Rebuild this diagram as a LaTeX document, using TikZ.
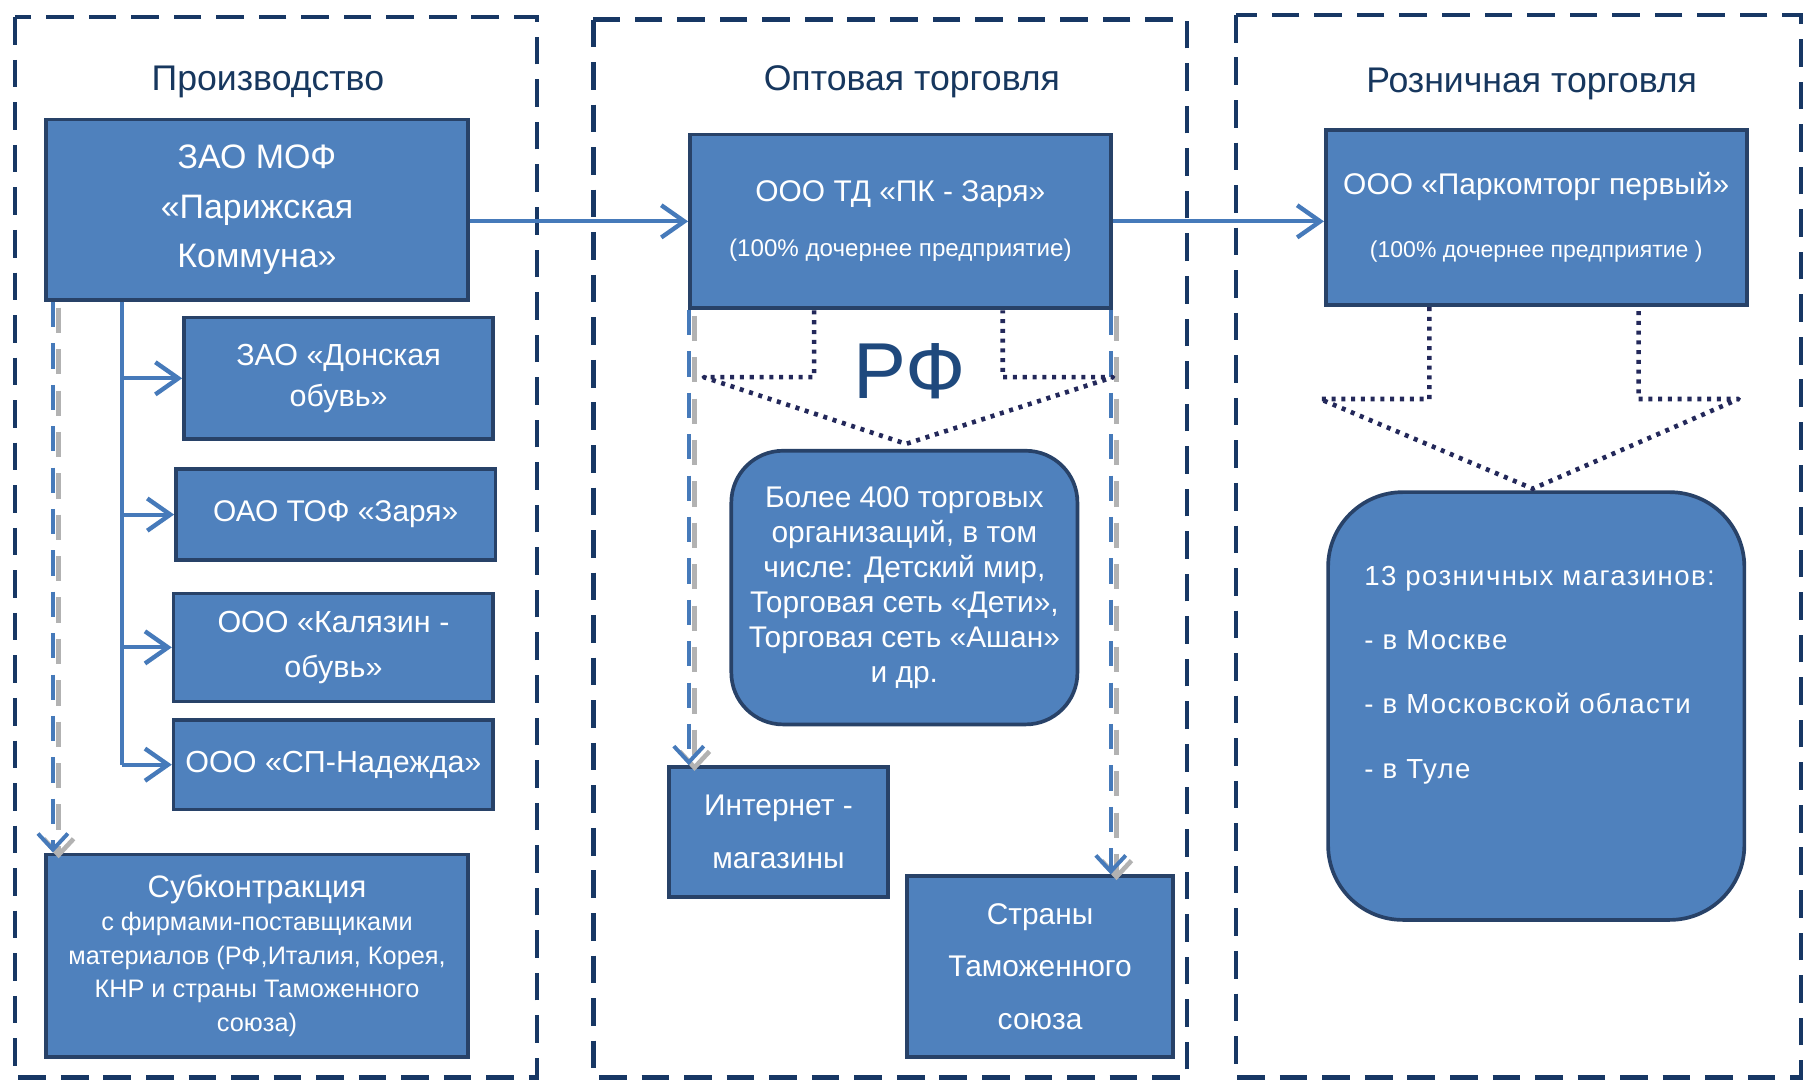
\documentclass[tikz,border=0pt]{standalone}
\usepackage{fontspec}
\setmainfont{Liberation Sans}
\usetikzlibrary{arrows.meta,calc}
\definecolor{boxfill}{RGB}{79,129,189}
\definecolor{boxline}{RGB}{40,66,104}
\definecolor{frameblue}{RGB}{23,55,100}
\definecolor{titleblue}{RGB}{23,55,94}
\definecolor{linkblue}{RGB}{70,122,186}
\definecolor{dotnavy}{RGB}{35,40,90}
\definecolor{rfblue}{RGB}{31,73,125}
\begin{document}
\begin{tikzpicture}[x=1pt,y=-1pt,
  frame/.style={draw=frameblue, line width=3.8pt, dash pattern=on 24pt off 13pt},
  title/.style={text=titleblue, font=\fontsize{31}{36}\selectfont},
  box/.style={draw=boxline, line width=3.2pt, fill=boxfill, text=white, align=center, inner sep=0pt},
  rbox/.style={box, rounded corners=45pt},
  link/.style={draw=linkblue, line width=3.4pt, -{Straight Barb[length=20pt,width=28pt,line width=3.8pt]}},
  dlink/.style={draw=linkblue, line width=3.4pt, dash pattern=on 22pt off 14pt, -{Straight Barb[length=14pt,width=26pt,line width=3.4pt]}},
  dshadow/.style={draw=black!30, line width=4pt, dash pattern=on 22pt off 14pt, -{Straight Barb[length=14pt,width=26pt,line width=4pt]}},
  dotarrow/.style={draw=dotnavy, line width=4pt, line join=round, dash pattern=on 3.5pt off 5pt},
]
\useasboundingbox (0,0) rectangle (1568,940);
\fill[white] (0,0) rectangle (1568,940);

% frames
\draw[frame] (13,15) rectangle (467,937);
\draw[frame] (516,17) rectangle (1032,937);
\draw[frame] (1075,13) rectangle (1566,937);

% titles
\node[title] (t1) at (233,71) {Производство};
\node[title] (t2) at (793,71) {Оптовая торговля};
\node[title] (t3) at (1332,73) {Розничная торговля};

% production column
\node[box, minimum width=367pt, minimum height=157pt, font=\fontsize{29.5}{43}\selectfont] (mof) at (223.5,182.5) {ЗАО МОФ\\«Парижская\\Коммуна»};
\node[box, minimum width=269pt, minimum height=106pt, font=\fontsize{26.5}{36}\selectfont] (don) at (294.5,329) {ЗАО «Донская\\обувь»};
\node[box, minimum width=278pt, minimum height=79pt, font=\fontsize{26}{36}\selectfont] (tof) at (292,447.5) {ОАО ТОФ «Заря»};
\node[box, minimum width=278pt, minimum height=94pt, font=\fontsize{26.5}{39}\selectfont] (kal) at (290,563) {ООО «Калязин -\\обувь»};
\node[box, minimum width=278pt, minimum height=78pt, font=\fontsize{26.5}{36}\selectfont] (sp) at (290,665) {ООО «СП-Надежда»};
\node[box, minimum width=367pt, minimum height=176pt, font=\fontsize{22}{29}\selectfont] (sub) at (223.5,831) {{\fontsize{27}{29}\selectfont Субконтракция}\\с фирмами-поставщиками\\материалов (РФ,Италия, Корея,\\КНР и страны Таможенного\\союза)};

% wholesale column
\node[box, minimum width=366pt, minimum height=151pt, font=\fontsize{26}{48}\selectfont] (td) at (783,192.5) {ООО ТД «ПК - Заря»\\{\fontsize{21}{48}\selectfont (100\% дочернее предприятие)}};
\node[rbox, minimum width=301pt, minimum height=238pt, font=\fontsize{26}{30.5}\selectfont] (more) at (786.5,511) {Более 400 торговых\\организаций, в том\\числе: Детский мир,\\Торговая сеть «Дети»,\\Торговая сеть «Ашан»\\и др.};
\node[box, minimum width=190pt, minimum height=113pt, font=\fontsize{26}{46}\selectfont] (inet) at (677,723.5) {Интернет -\\магазины};
\node[box, minimum width=231pt, minimum height=157pt, font=\fontsize{26}{45.5}\selectfont] (cu) at (904.5,840.5) {Страны\\Таможенного\\союза};
\node[text=rfblue, font=\fontsize{69}{80}\selectfont] (rf) at (791,323) {РФ};

% retail column
\node[box, minimum width=366pt, minimum height=152pt, font=\fontsize{26}{57}\selectfont] (park) at (1336,189) {ООО «Паркомторг первый»\\[-3pt]{\fontsize{20}{57}\selectfont (100\% дочернее предприятие )}};
\node[rbox, rounded corners=65pt, minimum width=362pt, minimum height=372pt] (shops) at (1336,614) {};
\node[text=white, align=left, anchor=west, font=\fontsize{24}{56}\selectfont\addfontfeatures{LetterSpace=5}] (shopstxt) at (1183,587) {13 розничных магазинов:\\- в Москве\\- в Московской области\\- в Туле};

% tree connectors
\coordinate (trunk) at (106,0);
\draw[linkblue, line width=3.4pt] (mof.south -| trunk) -- (trunk |- sp.west);
\draw[link] (trunk |- don.west) -- (don.west);
\draw[link] (trunk |- tof.west) -- (tof.west);
\draw[link] (trunk |- kal.west) -- (kal.west);
\draw[link] (trunk |- sp.west) -- (sp.west);

% main flow
\draw[link] (mof.east |- td.west) -- (td.west);
\draw[link] (td.east) -- (td.east -| park.west);

% dashed connectors with shadow
\coordinate (dl) at (46,0);
\coordinate (dl2) at (599,0);
\coordinate (dl3) at (966,0);
\begin{scope}[transform canvas={shift={(5pt,-5pt)}}]
\draw[dshadow] (mof.south -| dl) -- (sub.north -| dl);
\draw[dshadow] (td.south -| dl2) -- (inet.north -| dl2);
\draw[dshadow] (td.south -| dl3) -- (cu.north -| dl3);
\end{scope}
\draw[dlink] (mof.south -| dl) -- (sub.north -| dl);
\draw[dlink] (td.south -| dl2) -- (inet.north -| dl2);
\draw[dlink] (td.south -| dl3) -- (cu.north -| dl3);

% dotted block arrows
\draw[dotarrow] (708,270) -- (708,328) -- (612,328) -- (788,386) -- (968,328) -- (872,328) -- (872,270);
\draw[dotarrow] (1243,267) -- (1243,347) -- (1148,347) -- (1333,425) -- (1512,347) -- (1425,347) -- (1425,267);
\end{tikzpicture}
\end{document}
